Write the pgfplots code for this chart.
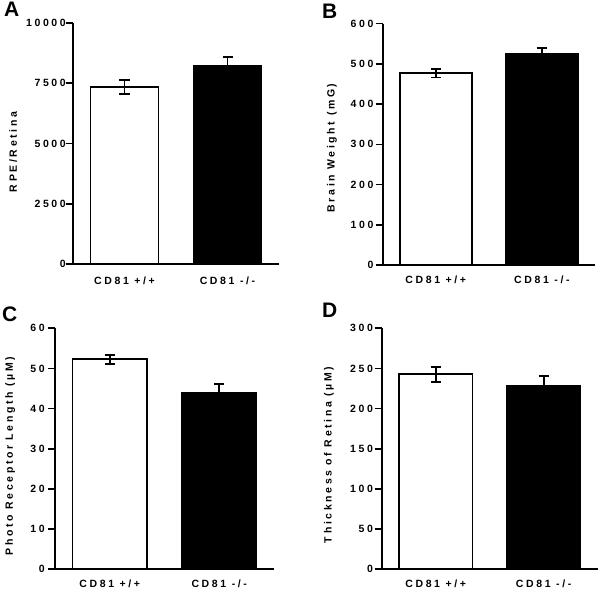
\documentclass[border=0pt]{standalone}
\usepackage{fontspec}
\setmainfont{Liberation Sans}
\newfontfamily\spaced{Liberation Sans}[LetterSpace=25]
\usepackage{pgfplots}
\pgfplotsset{compat=1.18}
\newcommand{\lf}{\spaced\bfseries\fontsize{10.5bp}{12bp}\selectfont}
\pgfplotsset{
  panel/.style={
    anchor=south west, scale only axis,
    xmin=-0.5, xmax=1.5, ymin=0,
    axis x line*=bottom, axis y line*=left,
    axis line style={line width=1.8bp, black},
    xtick={0,1}, xticklabels={CD81 +/+, CD81 -/-},
    x tick style={draw=none},
    y tick style={line width=1.6bp, black},
    tick align=outside, major tick length=7bp,
    scaled y ticks=false,
    yticklabel={\mbox{\lf\pgfmathprintnumber[assume math mode=true, 1000 sep={}, fixed]{\tick}}},
    ticklabel style={font=\lf},
    yticklabel style={inner sep=0pt},
    xticklabel style={inner sep=0pt},
    label style={font=\lf},
    clip=false,
  },
  wbar/.style={ybar, bar width=#1, fill=white, draw=black, line width=1.8bp,
    error bars/.cd, y dir=both, y explicit,
    error bar style={line width=1.8bp, black},
    error mark options={rotate=90, mark size=5bp, line width=1.8bp, black}},
  kbar/.style={ybar, bar width=#1, fill=black, draw=black, line width=1.8bp,
    error bars/.cd, y dir=both, y explicit,
    error bar style={line width=1.8bp, black},
    error mark options={rotate=90, mark size=5bp, line width=1.8bp, black}},
}
\begin{document}
\begin{tikzpicture}
\path[use as bounding box] (0,0) rectangle (600bp,592bp);
% A
\begin{axis}[panel, at={(73bp,328bp)}, width=206bp, height=241bp,
  yticklabel style={xshift=0bp}, xticklabel style={yshift=-6bp},
  ymax=10000, ytick={0,2500,5000,7500,10000},
  ylabel={RPE/Retina}, ylabel style={at={(axis description cs:-0.291,0.465)}, anchor=center}]
\addplot[wbar=0.66] coordinates {(0,7350) +- (0,280)};
\addplot[kbar=0.66] coordinates {(1,8230) +- (0,350)};
\end{axis}
% B
\begin{axis}[panel, at={(382.7bp,327bp)}, width=212.3bp, height=241.3bp,
  yticklabel style={xshift=-2bp}, xticklabel style={yshift=-4bp},
  ymax=600, ytick={0,100,...,600},
  ylabel={Brain Weight (mG)}, ylabel style={at={(axis description cs:-0.239,0.485)}, anchor=center}]
\addplot[wbar=0.68] coordinates {(0,477) +- (0,11)};
\addplot[kbar=0.68] coordinates {(1,526) +- (0,13)};
\end{axis}
% C
\begin{axis}[panel, at={(55bp,22.7bp)}, width=219bp, height=241bp,
  yticklabel style={xshift=-3bp}, xticklabel style={yshift=-3bp},
  ymax=60, ytick={0,10,...,60},
  ylabel={Photo Receptor Length (µM)}, ylabel style={at={(axis description cs:-0.205,0.47)}, anchor=center}]
\addplot[wbar=0.68] coordinates {(0,52.3) +- (0,1.1)};
\addplot[kbar=0.68] coordinates {(1,44.0) +- (0,2.1)};
\end{axis}
% D
\begin{axis}[panel, at={(381.7bp,22.7bp)}, width=216bp, height=241bp,
  yticklabel style={xshift=-1.5bp}, xticklabel style={yshift=-3bp},
  ymax=300, ytick={0,50,...,300},
  ylabel={Thickness of Retina (µM)}, ylabel style={at={(axis description cs:-0.244,0.475)}, anchor=center}]
\addplot[wbar=0.68] coordinates {(0,242.7) +- (0,9.4)};
\addplot[kbar=0.68] coordinates {(1,228.2) +- (0,12.4)};
\end{axis}
\node[anchor=north west, inner sep=0pt] at (4bp,590.3bp) {\fontsize{21bp}{21bp}\selectfont\bfseries A};
\node[anchor=north west, inner sep=0pt] at (322bp,588bp) {\fontsize{21bp}{21bp}\selectfont\bfseries B};
\node[anchor=north west, inner sep=0pt] at (2bp,285bp) {\fontsize{21bp}{21bp}\selectfont\bfseries C};
\node[anchor=north west, inner sep=0pt] at (322bp,289bp) {\fontsize{21bp}{21bp}\selectfont\bfseries D};
\end{tikzpicture}
\end{document}
